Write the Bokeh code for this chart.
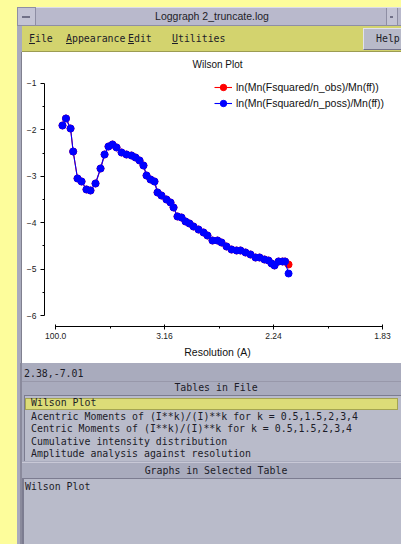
from bokeh.plotting import figure
from bokeh.models import Div, FixedTicker, Label, Range1d
from bokeh.layouts import row, column
from bokeh.embed import file_html
from bokeh.resources import INLINE

# ---------------- data ----------------
inv_d2 = [0.0064, 0.0096, 0.0138, 0.0162, 0.0202, 0.0239, 0.0284, 0.0321, 0.0367,
          0.0413, 0.0450, 0.0486, 0.0523, 0.0560, 0.0606, 0.0651, 0.0697, 0.0734,
          0.0771, 0.0807, 0.0835, 0.0872, 0.0908, 0.0936, 0.0972, 0.1018, 0.1055,
          0.1083, 0.1119, 0.1156, 0.1193, 0.1229, 0.1266, 0.1312, 0.1358, 0.1394,
          0.1440, 0.1486, 0.1523, 0.1569, 0.1615, 0.1661, 0.1697, 0.1743, 0.1789,
          0.1835, 0.1872, 0.1917, 0.1954, 0.1982, 0.2009, 0.2046, 0.2083, 0.2106,
          0.2138]
ln_obs = [-1.905, -1.754, -1.970, -2.466, -3.047, -3.112, -3.284, -3.306, -3.155,
          -2.832, -2.530, -2.358, -2.315, -2.379, -2.487, -2.530, -2.552, -2.595,
          -2.659, -2.767, -2.983, -3.069, -3.112, -3.349, -3.414, -3.500, -3.565,
          -3.672, -3.866, -3.888, -3.974, -4.017, -4.082, -4.147, -4.211, -4.276,
          -4.384, -4.384, -4.427, -4.513, -4.578, -4.599, -4.599, -4.642, -4.685,
          -4.750, -4.750, -4.793, -4.815, -4.879, -4.922, -4.836, -4.836, -4.836,
          -4.901]
ln_poss = [-1.905, -1.754, -1.970, -2.466, -3.047, -3.112, -3.284, -3.306, -3.155,
           -2.832, -2.530, -2.358, -2.315, -2.379, -2.487, -2.530, -2.552, -2.595,
           -2.659, -2.767, -2.983, -3.069, -3.112, -3.349, -3.414, -3.500, -3.565,
           -3.672, -3.866, -3.888, -3.974, -4.017, -4.082, -4.147, -4.211, -4.276,
           -4.384, -4.384, -4.427, -4.513, -4.578, -4.599, -4.599, -4.642, -4.685,
           -4.750, -4.750, -4.793, -4.815, -4.879, -4.922, -4.836, -4.836, -4.836,
           -5.095]
series_labels = ["ln(Mn(Fsquared/n_obs)/Mn(ff))", "ln(Mn(Fsquared/n_poss)/Mn(ff))"]
series_colors = ["#ff0000", "#0000ff"]
x_tick_vals = [0.0001, 0.1, 0.2, 0.3]
x_tick_labels = ["100.0", "3.16", "2.24", "1.83"]
x_minor_vals = [0.05, 0.15, 0.25]
y_tick_vals = [-6, -5, -4, -3, -2, -1]
y_minor_vals = [-5.5, -4.5, -3.5, -2.5, -1.5]
plot_title = "Wilson Plot"
x_title = "Resolution (A)"
window_title = "Loggraph 2_truncate.log"
menu_items = ["File", "Appearance", "Edit", "Utilities"]
status_text = "2.38,-7.01"
tables = ["Wilson Plot",
          "Acentric Moments of (I**k)/(I)**k for k = 0.5,1.5,2,3,4",
          "Centric Moments of (I**k)/(I)**k for k = 0.5,1.5,2,3,4",
          "Cumulative intensity distribution",
          "Amplitude analysis against resolution"]
graphs = ["Wilson Plot"]

# ---------------- colours ----------------
YELLOW = "#fdfd9b"
WIN_GREY = "#a9abbd"
TITLE_GREY = "#b9b9cc"
MENU_Y = "#d3d36e"
LIST_GREY = "#b9bbca"
HILITE = "#dcdc78"
MONO = "'DejaVu Sans Mono', monospace"
SANS = "'Liberation Sans', sans-serif"
MONO_SIZE = "9.9px"

# ---------------- plot ----------------
p = figure(width=379, height=311, output_backend="svg", toolbar_location=None,
           title=None, x_range=Range1d(-0.0101, 0.3073), y_range=Range1d(-6.237, -0.332),
           min_border_left=22, min_border_right=11, min_border_top=0, min_border_bottom=37)
p.outline_line_color = None
p.xgrid.visible = False
p.ygrid.visible = False
p.background_fill_color = "white"
p.border_fill_color = "white"

for yv, lab, col in [(ln_obs, series_labels[0], series_colors[0]),
                     (ln_poss, series_labels[1], series_colors[1])]:
    p.line(inv_d2, yv, line_color=col, line_width=1.1, legend_label=lab)
    p.scatter(inv_d2, yv, size=7, fill_color=col, line_color=col, legend_label=lab)

p.xaxis.ticker = FixedTicker(ticks=x_tick_vals, minor_ticks=x_minor_vals)
p.xaxis.major_label_overrides = {v: t for v, t in zip(x_tick_vals, x_tick_labels)}
p.xaxis.bounds = (x_tick_vals[0], x_tick_vals[-1])
p.xaxis.axis_label = x_title
p.xaxis.major_tick_in = 2
p.xaxis.major_tick_out = 3
p.xaxis.minor_tick_in = 0
p.xaxis.minor_tick_out = 2
p.xaxis.major_label_standoff = 3
p.xaxis.axis_label_standoff = 4

p.yaxis.ticker = FixedTicker(ticks=y_tick_vals, minor_ticks=y_minor_vals)
p.yaxis.bounds = (y_tick_vals[0], y_tick_vals[-1])
p.yaxis.major_tick_in = 0
p.yaxis.major_tick_out = 4
p.yaxis.minor_tick_in = 0
p.yaxis.minor_tick_out = 2
p.yaxis.major_label_standoff = 4

for ax in (p.xaxis, p.yaxis):
    ax.axis_line_color = "#000000"
    ax.major_tick_line_color = "#000000"
    ax.minor_tick_line_color = "#000000"
    ax.major_label_text_font = "Liberation Sans"
    ax.major_label_text_font_size = "8.5px"
    ax.major_label_text_color = "#222222"
p.xaxis.axis_label_text_font = "Liberation Sans"
p.xaxis.axis_label_text_font_size = "10.5px"
p.xaxis.axis_label_text_font_style = "normal"
p.xaxis.axis_label_text_color = "#111111"

p.add_layout(Label(x=0.1257, y=-0.59, text=plot_title, text_align="left",
                   text_baseline="middle", text_font="Liberation Sans",
                   text_font_size="10px", text_color="#111111"))

lg = p.legend[0]
lg.location = (170, 215)
lg.background_fill_alpha = 0
lg.border_line_color = None
lg.padding = 0
lg.margin = 0
lg.spacing = 0
lg.glyph_width = 18
lg.glyph_height = 16
lg.label_height = 16
lg.label_standoff = 4
lg.label_text_font = "Liberation Sans"
lg.label_text_font_size = "10.5px"
lg.label_text_color = "#111111"

# ---------------- window chrome ----------------
def span(left, top, text, size=MONO_SIZE, font=MONO, extra=""):
    return (f"<div style=\"position:absolute;left:{left}px;top:{top}px;white-space:nowrap;"
            f"font-family:{font};font-size:{size};line-height:12px;color:#1c1c28;{extra}\">{text}</div>")

def centered(cx, top, text):
    return (f"<div style=\"position:absolute;left:{cx}px;top:{top}px;transform:translateX(-50%);"
            f"white-space:nowrap;font-family:{MONO};font-size:{MONO_SIZE};line-height:12px;"
            f"color:#1c1c28;\">{text}</div>")

menu_x = [12, 49, 111, 155]
menu_html = "".join(span(x, 33, f"<u>{w[0]}</u>{w[1:]}") for x, w in zip(menu_x, menu_items))
top_html = (
    f"<div style=\"position:relative;width:384px;height:52px;overflow:hidden;background:{YELLOW};\">"
    f"<div style=\"position:absolute;left:0;top:7px;width:384px;height:45px;background:{WIN_GREY};\"></div>"
    f"<div style=\"position:absolute;left:0;top:7px;width:384px;height:19px;background:{TITLE_GREY};"
    f"border-top:1px solid #dcdce8;border-bottom:1px solid #8e8ea4;box-sizing:border-box;\"></div>"
    f"<div style=\"position:absolute;left:0;top:7px;width:19px;height:19px;border:1px solid #8e8ea4;"
    f"box-sizing:border-box;background:#c3c3d4;\"></div>"
    f"<div style=\"position:absolute;left:5px;top:16px;width:8px;height:2px;background:#707088;\"></div>"
    f"<div style=\"position:absolute;left:369px;top:8px;width:12px;height:17px;border-left:1px solid #8e8ea4;"
    f"border-right:1px solid #8e8ea4;background:#c3c3d4;\"></div>"
    f"<div style=\"position:absolute;left:373px;top:16px;width:3px;height:2px;background:#707088;\"></div>"
    f"<div style=\"position:absolute;left:195px;top:10px;transform:translateX(-50%);white-space:nowrap;"
    f"font-family:{SANS};font-size:10.5px;line-height:12px;color:#1e1e28;\">{window_title}</div>"
    f"<div style=\"position:absolute;left:5px;top:26px;width:379px;height:26px;background:{MENU_Y};"
    f"border-bottom:1px solid #9c9c52;box-sizing:border-box;\"></div>"
    + menu_html +
    f"<div style=\"position:absolute;left:346px;top:28px;width:44px;height:22px;background:#b8bac9;"
    f"border-top:1px solid #e2e2ec;border-left:1px solid #e2e2ec;border-bottom:1px solid #70708a;"
    f"box-sizing:border-box;\"></div>"
    + span(359, 33, "Help") +
    "</div>"
)
top_div = Div(text=top_html, width=384, height=52, margin=(0, 0, 0, 0))

strip_div = Div(text=f"<div style=\"width:5px;height:311px;background:{WIN_GREY};"
                     f"border-right:1px solid #80808f;box-sizing:border-box;\"></div>",
                width=5, height=311, margin=(0, 0, 0, 0))

row_tops = [34, 47.5, 60, 72.5, 85]
rows_html = "".join(span(14, t, name) for t, name in zip(row_tops, tables))
bottom_html = (
    f"<div style=\"position:relative;width:384px;height:181px;overflow:hidden;background:{WIN_GREY};\">"
    f"<div style=\"position:absolute;left:3px;top:0;width:2px;height:181px;background:#8a8a9c;\"></div>"
    + span(7, 5, status_text) +
    f"<div style=\"position:absolute;left:5px;top:18px;width:379px;height:1px;background:#9898aa;\"></div>"
    + centered(199, 19, "Tables in File") +
    f"<div style=\"position:absolute;left:7px;top:32px;width:380px;height:66px;background:{LIST_GREY};"
    f"border-top:1px solid #7c7c90;border-left:1px solid #7c7c90;box-sizing:border-box;\"></div>"
    f"<div style=\"position:absolute;left:8px;top:35px;width:373px;height:12px;background:{HILITE};"
    f"border:1px solid #a4a452;box-sizing:border-box;\"></div>"
    + rows_html +
    f"<div style=\"position:absolute;left:5px;top:99px;width:379px;height:1px;background:#c8c8d6;\"></div>"
    + centered(199, 102, "Graphs in Selected Table") +
    f"<div style=\"position:absolute;left:5px;top:115px;width:380px;height:66px;background:{LIST_GREY};"
    f"border-top:1px solid #7c7c90;border-left:2px solid #7c7c90;box-sizing:border-box;\"></div>"
    + span(8, 118, graphs[0]) +
    "</div>"
)
bottom_div = Div(text=bottom_html, width=384, height=181, margin=(0, 0, 0, 0))

yellow_div = Div(text=f"<div style=\"width:17px;height:544px;background:{YELLOW};\"></div>",
                 width=17, height=544, margin=(0, 0, 0, 0))

layout = row(yellow_div, column(top_div, row(strip_div, p), bottom_div))

open("out.html", "w").write(file_html(layout, INLINE, title="Loggraph"))
